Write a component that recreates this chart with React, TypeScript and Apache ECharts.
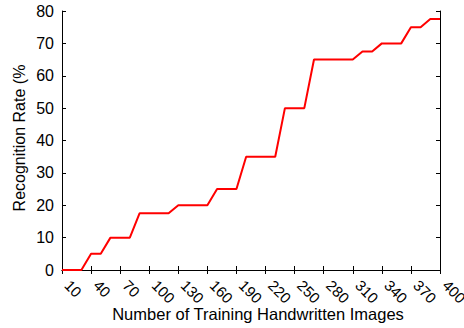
import React, { useEffect, useRef } from "react";
import * as echarts from "echarts";

const imageCounts = [
  "10", "20", "30", "40", "50", "60", "70", "80", "90", "100",
  "110", "120", "130", "140", "150", "160", "170", "180", "190", "200",
  "210", "220", "230", "240", "250", "260", "270", "280", "290", "300",
  "310", "320", "330", "340", "350", "360", "370", "380", "390", "400",
];
const recognitionRate = [
  0, 0, 0, 5, 5, 10, 10, 10, 17.5, 17.5,
  17.5, 17.5, 20, 20, 20, 20, 25, 25, 25, 35,
  35, 35, 35, 50, 50, 50, 65, 65, 65, 65,
  65, 67.5, 67.5, 70, 70, 70, 75, 75, 77.5, 77.5,
];
const xTitle = "Number of Training Handwritten Images";
const yTitle = "Recognition Rate (%";

const FONT = "'Liberation Sans', Arial, sans-serif";

export default function App() {
  const ref = useRef<HTMLDivElement>(null);
  useEffect(() => {
    if (!ref.current) return;
    const chart = echarts.init(ref.current, null, { renderer: "svg" });
    const axisLine = { show: true, lineStyle: { color: "#000", width: 1 } };
    chart.setOption({
      animation: false,
      backgroundColor: "#fff",
      grid: {
        left: 62,
        right: 24,
        top: 11,
        bottom: 58,
        containLabel: false,
        outerBoundsMode: "none",
      },
      xAxis: [
        {
          type: "category",
          data: imageCounts,
          boundaryGap: false,
          position: "bottom",
          axisLine,
          axisTick: { show: true, inside: true, length: 4, interval: 2, lineStyle: { color: "#000" } },
          axisLabel: {
            interval: 2,
            rotate: -45,
            margin: 18,
            align: "left",
            verticalAlign: "bottom",
            color: "#000",
            fontSize: 15,
            fontFamily: FONT,
          },
          splitLine: { show: false },
        },
        {
          type: "category",
          data: imageCounts,
          boundaryGap: false,
          position: "top",
          axisLine,
          axisTick: { show: true, inside: true, length: 4, interval: 2, lineStyle: { color: "#000" } },
          axisLabel: { show: false },
          splitLine: { show: false },
        },
      ],
      yAxis: [
        {
          type: "value",
          min: 0,
          max: 80,
          interval: 10,
          position: "left",
          axisLine,
          axisTick: { show: true, inside: true, length: 4, lineStyle: { color: "#000" } },
          axisLabel: { color: "#000", fontSize: 16, fontFamily: FONT, margin: 8 },
          splitLine: { show: false },
        },
        {
          type: "value",
          min: 0,
          max: 80,
          interval: 10,
          position: "right",
          axisLine,
          axisTick: { show: true, inside: true, length: 4, lineStyle: { color: "#000" } },
          axisLabel: { show: false },
          splitLine: { show: false },
        },
      ],
      graphic: [
        {
          type: "text",
          x: 258,
          y: 314,
          style: {
            text: xTitle,
            fontSize: 16.5,
            fontFamily: FONT,
            fill: "#000",
            textAlign: "center",
            textVerticalAlign: "middle",
          },
        },
        {
          type: "text",
          x: 19,
          y: 138,
          rotation: Math.PI / 2,
          style: {
            text: yTitle,
            fontSize: 16,
            fontFamily: FONT,
            fill: "#000",
            textAlign: "center",
            textVerticalAlign: "middle",
          },
        },
      ],
      series: [
        {
          type: "line",
          data: recognitionRate,
          xAxisIndex: 0,
          yAxisIndex: 0,
          symbol: "none",
          lineStyle: { color: "#ff0000", width: 2 },
        },
      ],
    });
    return () => chart.dispose();
  }, []);
  return (
    <div
      ref={ref}
      style={{ position: "fixed", left: 0, top: 0, width: 464, height: 328 }}
    />
  );
}
